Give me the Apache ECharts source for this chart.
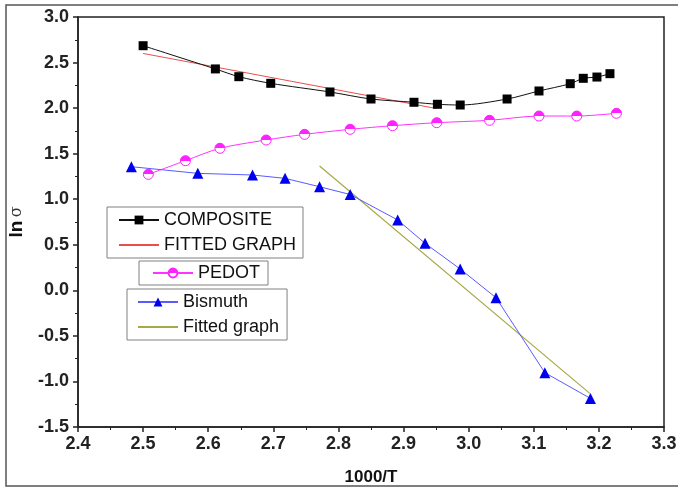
<!DOCTYPE html>
<html>
<head>
<meta charset="utf-8">
<script src="https://cdn.jsdelivr.net/npm/echarts@6/dist/echarts.min.js"></script>
<style>
html,body{margin:0;padding:0;background:#fff;}
#chart{width:678px;height:488px;}
</style>
</head>
<body>
<div id="chart"></div>
<script>
// ---- data ----
const compositeX = [2.500, 2.611, 2.647, 2.696, 2.787, 2.850, 2.916, 2.952, 2.987, 3.059, 3.108, 3.156, 3.176, 3.197, 3.217];
const compositeY = [2.685, 2.430, 2.345, 2.272, 2.177, 2.100, 2.064, 2.042, 2.034, 2.100, 2.188, 2.268, 2.327, 2.341, 2.378];

const fitCompositeX = [2.500, 2.951];
const fitCompositeY = [2.600, 1.995];

const pedotX = [2.508, 2.565, 2.618, 2.689, 2.748, 2.818, 2.883, 2.951, 3.032, 3.108, 3.166, 3.227];
const pedotY = [1.273, 1.423, 1.559, 1.650, 1.712, 1.767, 1.807, 1.840, 1.866, 1.913, 1.913, 1.943];

const bismuthX = [2.482, 2.584, 2.668, 2.718, 2.771, 2.818, 2.891, 2.933, 2.987, 3.042, 3.117, 3.187];
const bismuthY = [1.357, 1.284, 1.266, 1.229, 1.137, 1.052, 0.772, 0.516, 0.234, -0.081, -0.904, -1.186];

const fitBismuthX = [2.771, 3.186];
const fitBismuthY = [1.364, -1.131];

const xTicks = {min: 2.4, max: 3.3, interval: 0.1};
const yTicks = {min: -1.5, max: 3.0, interval: 0.5};

const seriesNames = ['COMPOSITE', 'FITTED GRAPH', 'PEDOT', 'Bismuth', 'Fitted graph'];

function pairs(xs, ys) { return xs.map((x, i) => [x, ys[i]]); }

const FONT = "'Liberation Sans', Arial, sans-serif";
const chart = echarts.init(document.getElementById('chart'), null, {renderer: 'canvas'});

const legendBase = {
  orient: 'vertical',
  backgroundColor: '#fff',
  borderColor: '#808080',
  borderWidth: 1,
  borderRadius: 0,
  itemWidth: 40,
  itemHeight: 11,
  itemGap: 7,
  textStyle: {fontFamily: FONT, fontSize: 18, color: '#111'},
  z: 10
};
const lineOnly = name => ({name: name, itemStyle: {opacity: 0}});

const pedotFill = {
  type: 'linear', x: 0, y: 0, x2: 0, y2: 1,
  colorStops: [
    {offset: 0, color: '#ff22ff'}, {offset: 0.5, color: '#ff22ff'},
    {offset: 0.5, color: '#ffffff'}, {offset: 1, color: '#ffffff'}
  ]
};

const option = {
  animation: false,
  backgroundColor: '#fff',
  graphic: [{
    type: 'rect', silent: true, z: -10,
    shape: {x: 6, y: 5, width: 690, height: 481},
    style: {fill: 'none', stroke: '#555', lineWidth: 1.5}
  }],
  grid: {
    left: 78, right: 14, top: 17, bottom: 61,
    containLabel: false, outerBoundsMode: 'none',
    show: true, borderColor: '#222', borderWidth: 1.5, backgroundColor: 'transparent'
  },
  legend: [
    Object.assign({}, legendBase, {data: [seriesNames[0], lineOnly(seriesNames[1])], left: 107, top: 207, padding: [4, 7, 4, 11]}),
    Object.assign({}, legendBase, {data: [seriesNames[2]], left: 139, top: 261, padding: [3, 8, 3, 13]}),
    Object.assign({}, legendBase, {data: [seriesNames[3], lineOnly(seriesNames[4])], left: 127, top: 289, padding: [4, 8, 4, 10]})
  ],
  xAxis: {
    type: 'value', min: xTicks.min, max: xTicks.max, interval: xTicks.interval,
    name: '1000/T', nameLocation: 'middle', nameGap: 42,
    nameTextStyle: {fontFamily: FONT, fontSize: 17, fontWeight: 'bold', color: '#111'},
    axisLine: {show: true, onZero: false, lineStyle: {color: '#222', width: 1.5}},
    axisTick: {show: true, inside: false, length: 5, lineStyle: {color: '#222', width: 1.5}},
    minorTick: {show: true, splitNumber: 2, length: 3, lineStyle: {color: '#222', width: 1}},
    splitLine: {show: false},
    axisLabel: {fontFamily: FONT, fontSize: 18, fontWeight: 'bold', color: '#222', margin: 8,
      formatter: v => v.toFixed(1)}
  },
  yAxis: {
    type: 'value', min: yTicks.min, max: yTicks.max, interval: yTicks.interval,
    name: '{a|ln} {b|σ}', nameLocation: 'middle', nameGap: 52, nameRotate: 90,
    nameTextStyle: {
      rich: {
        a: {fontFamily: FONT, fontSize: 19, fontWeight: 'bold', color: '#111'},
        b: {fontFamily: "'DejaVu Serif', serif", fontSize: 16, color: '#333'}
      }
    },
    axisLine: {show: true, onZero: false, lineStyle: {color: '#222', width: 1.5}},
    axisTick: {show: true, inside: false, length: 5, lineStyle: {color: '#222', width: 1.5}},
    minorTick: {show: true, splitNumber: 2, length: 3, lineStyle: {color: '#222', width: 1}},
    splitLine: {show: false},
    axisLabel: {fontFamily: FONT, fontSize: 18, fontWeight: 'bold', color: '#222', margin: 9,
      formatter: v => v.toFixed(1)}
  },
  series: [
    {
      name: seriesNames[1], type: 'line', data: pairs(fitCompositeX, fitCompositeY),
      symbol: 'none', lineStyle: {color: '#e8504a', width: 1}, itemStyle: {color: '#e8504a'}, z: 2
    },
    {
      name: seriesNames[0], type: 'line', data: pairs(compositeX, compositeY),
      smooth: 0.3, symbol: 'rect', symbolSize: 9,
      lineStyle: {color: '#111', width: 1}, itemStyle: {color: '#000'}, z: 3
    },
    {
      name: seriesNames[2], type: 'line', data: pairs(pedotX, pedotY),
      smooth: 0.3, symbol: 'circle', symbolSize: 10,
      lineStyle: {color: '#ff33ff', width: 1},
      itemStyle: {color: pedotFill, borderColor: '#ff22ff', borderWidth: 1}, z: 3
    },
    {
      name: seriesNames[4], type: 'line', data: pairs(fitBismuthX, fitBismuthY),
      symbol: 'none', lineStyle: {color: '#a8a848', width: 1.2}, itemStyle: {color: '#a8a848'}, z: 2
    },
    {
      name: seriesNames[3], type: 'line', data: pairs(bismuthX, bismuthY),
      symbol: 'triangle', symbolSize: 11,
      lineStyle: {color: '#5a5aff', width: 1}, itemStyle: {color: '#0000ee'}, z: 3
    }
  ]
};
chart.setOption(option);
</script>
</body>
</html>
